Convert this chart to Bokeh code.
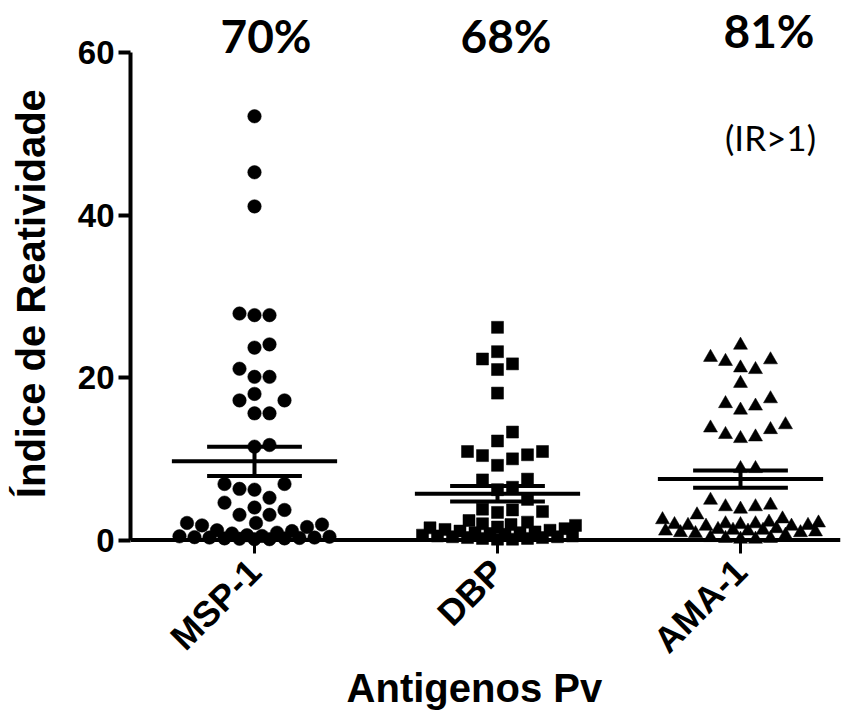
import math
import numpy as np
from bokeh.plotting import figure
from bokeh.models import FixedTicker, Range1d, Span, ColumnDataSource, Label
from bokeh.embed import file_html
from bokeh.resources import INLINE

# ---------------- data ----------------
categories = ["MSP-1", "DBP", "AMA-1"]

msp1 = [52.2, 45.3, 41.1, 27.9, 27.7, 27.7, 24.1, 23.7, 21.1, 20.1, 20.1,
        18.0, 17.2, 17.2, 15.6, 15.6, 11.7, 11.5, 6.9, 6.9, 6.3, 6.2, 5.2,
        4.6, 4.0, 3.7, 3.1, 3.1, 2.1, 2.1, 1.9, 1.8, 1.6, 1.2, 1.1,
        0.9, 0.8, 0.6, 0.5, 0.45, 0.4, 0.35, 0.3, 0.3, 0.25, 0.2, 0.2,
        0.15, 0.1, 0.1]

dbp = [26.2, 23.2, 22.3, 21.7, 21.0, 18.1, 13.3, 12.2, 10.9, 10.9, 10.5,
       10.4, 10.0, 9.2, 7.5, 7.4, 6.5, 6.2, 5.0, 3.8, 3.7, 3.5, 3.4, 2.4,
       2.2, 2.0, 1.9, 1.8, 1.6, 1.5, 1.4, 1.3, 1.2, 1.1,
       1.0, 0.9, 0.9, 0.8, 0.7, 0.6, 0.5, 0.5, 0.4, 0.4, 0.3, 0.3, 0.2,
       0.2, 0.1, 0.1]

ama1 = [24.0, 22.5, 22.2, 22.0, 21.2, 21.0, 19.3, 17.4, 16.8, 16.5, 16.0,
        14.2, 13.8, 13.6, 13.0, 12.7, 12.5, 8.8, 8.8, 4.9, 4.3, 4.1, 4.1,
        3.8, 3.1, 2.6, 2.5, 2.2, 2.1, 2.0, 2.0, 1.9, 1.9, 1.8, 1.8, 1.7,
        1.7, 1.4, 1.3, 1.2, 1.2, 1.1, 1.1,
        1.0, 0.9, 0.9, 0.8, 0.6, 0.3, 0.2, 0.2, 0.1, 0.1]

means = [9.7, 5.7, 7.5]
sems = [1.8, 0.95, 1.05]

percent_labels = ["70%", "68%", "81%"]
note_label = "(IR>1)"
y_ticks = [0, 20, 40, 60]
y_title = "Índice de Reatividade"
x_title = "Antigenos Pv"

# ---------------- layout ----------------
W, H = 853, 722
B_LEFT, B_RIGHT, B_TOP, B_BOTTOM = 130, 13, 0, 169
FRAME_W = W - B_LEFT - B_RIGHT
FRAME_H = H - B_TOP - B_BOTTOM
PX_X = 243.0                      # px per category unit
X0 = 1 - 124.0 / PX_X
X1 = X0 + FRAME_W / PX_X
PX_Y = 8.117
Y0 = -13.5 / PX_Y
Y1 = Y0 + FRAME_H / PX_Y

FONT = "Liberation Sans"
NBSP = "\u00a0"


def swarm(vals, slot=15.0, half_w=78.0):
    """Beeswarm offsets (in x data units) computed in screen pixels."""
    ys = np.asarray(vals, dtype=float) * PX_Y
    order = np.argsort(ys, kind="stable")
    cands = [0.0]
    k = 1
    while k * slot <= half_w:
        cands += [k * slot, -k * slot]
        k += 1
    placed = []
    xs = np.zeros(len(ys))
    lim = (slot * 0.97) ** 2
    for i in order:
        y = ys[i]
        chosen = None
        for c in cands:
            if all((c - px) ** 2 + (y - py) ** 2 >= lim for px, py in placed):
                chosen = c
                break
        if chosen is None:
            fine = np.arange(-half_w, half_w + 0.1, 1.5)
            best, bestd = 0.0, -1
            for c in fine:
                d = min((c - px) ** 2 + (y - py) ** 2 for px, py in placed)
                if d > bestd + 1e-9:
                    best, bestd = c, d
            chosen = best
        xs[i] = chosen
        placed.append((chosen, y))
    return xs / PX_X


p = figure(width=W, height=H, output_backend="svg", toolbar_location=None,
           x_range=Range1d(X0, X1), y_range=Range1d(Y0, Y1),
           min_border_left=B_LEFT, min_border_right=B_RIGHT,
           min_border_top=B_TOP, min_border_bottom=B_BOTTOM)
p.outline_line_color = None
p.xgrid.visible = False
p.ygrid.visible = False
p.background_fill_color = "white"
p.border_fill_color = "white"

series = [msp1, dbp, ama1]
markers = ["circle", "square", "triangle"]
sizes = [13.5, 12, 14]
for i, (vals, mk, sz) in enumerate(zip(series, markers, sizes)):
    xs = (i + 1) + swarm(vals)
    src = ColumnDataSource(dict(x=xs, y=vals))
    p.scatter("x", "y", source=src, marker=mk, size=sz,
              fill_color="black", line_color="black", line_width=0.5)

# mean and SEM bars
cx = np.arange(1, len(categories) + 1, dtype=float)
m = np.array(means)
s = np.array(sems)
MEAN_HW, SEM_HW = 0.34, 0.195
p.segment(x0=cx - MEAN_HW, x1=cx + MEAN_HW, y0=m, y1=m, line_color="black", line_width=4)
p.segment(x0=cx - SEM_HW, x1=cx + SEM_HW, y0=m + s, y1=m + s, line_color="black", line_width=4)
p.segment(x0=cx - SEM_HW, x1=cx + SEM_HW, y0=m - s, y1=m - s, line_color="black", line_width=4)
p.segment(x0=cx, x1=cx, y0=m - s, y1=m + s, line_color="black", line_width=4)

# x axis line at 0
p.add_layout(Span(location=0, dimension="width", line_color="black", line_width=4))

# percentage labels
lbl_dx_px = [11.5, 8.5, 28.5]
lbl_y = [62.2, 62.2, 62.8]
for xc, dx, yy, t in zip(cx, lbl_dx_px, lbl_y, percent_labels):
    p.add_layout(Label(x=xc + dx / PX_X, y=yy, text=t, text_font="Lato",
                       text_font_style="bold", text_font_size="46px",
                       text_align="center", text_baseline="alphabetic",
                       text_color="black"))
p.add_layout(Label(x=3 + 30.0 / PX_X, y=49.6, text=note_label, text_font="Lato",
                   text_font_size="35px", text_align="center",
                   text_baseline="alphabetic", text_color="black"))

# y axis
ya = p.yaxis[0]
ya.ticker = FixedTicker(ticks=y_ticks)
ya.bounds = (0, 60)
ya.axis_line_width = 4
ya.axis_line_color = "black"
ya.major_tick_line_width = 4
ya.major_tick_line_color = "black"
ya.major_tick_out = 12
ya.major_tick_in = 0
ya.minor_tick_line_color = None
ya.major_label_text_font = FONT
ya.major_label_text_font_style = "bold"
ya.major_label_text_font_size = "33px"
ya.major_label_text_color = "black"
ya.major_label_standoff = 4
# trailing no-break spaces shift the centred title to where the original sits
ya.axis_label = y_title + NBSP * 3
ya.axis_label_text_font = FONT
ya.axis_label_text_font_style = "bold"
ya.axis_label_text_font_size = "40px"
ya.axis_label_text_color = "black"
ya.axis_label_standoff = 22

# x axis
xa = p.xaxis[0]
xa.ticker = FixedTicker(ticks=[1, 2, 3])
xa.major_label_overrides = {1: categories[0], 2: categories[1], 3: categories[2]}
xa.axis_line_color = None
xa.major_tick_in = 13
xa.major_tick_out = 0
xa.major_tick_line_width = 3
xa.major_tick_line_color = "black"
xa.minor_tick_line_color = None
xa.major_label_orientation = math.pi / 4
xa.major_label_text_font = FONT
xa.major_label_text_font_style = "bold"
xa.major_label_text_font_size = "36px"
xa.major_label_text_color = "black"
xa.major_label_standoff = 12
xa.axis_label = x_title + NBSP * 2
xa.axis_label_text_font = FONT
xa.axis_label_text_font_style = "bold"
xa.axis_label_text_font_size = "40px"
xa.axis_label_text_color = "black"
xa.axis_label_standoff = -12

open("out.html", "w").write(file_html(p, INLINE))
